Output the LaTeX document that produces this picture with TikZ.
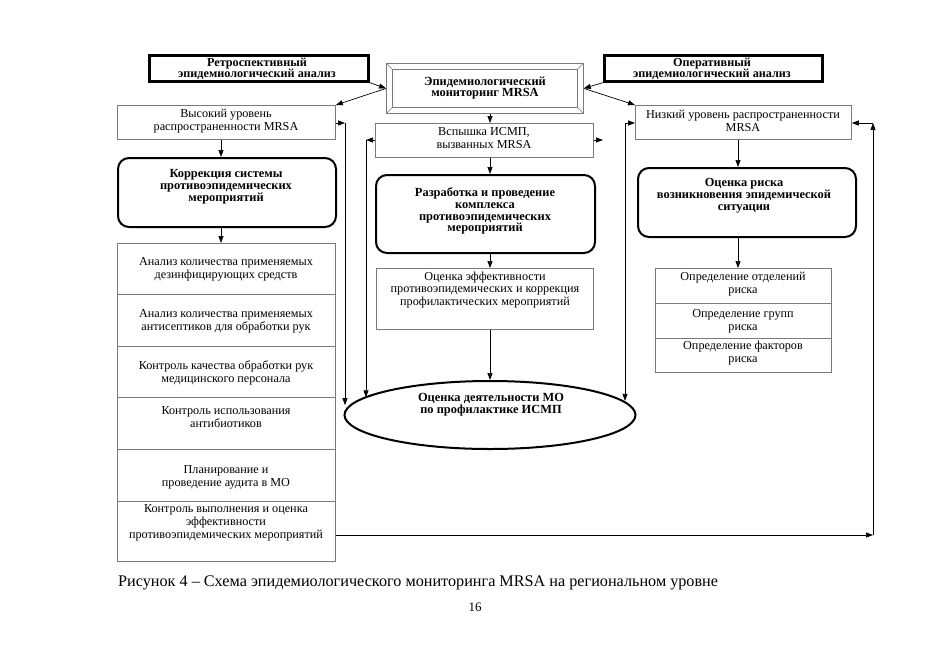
\documentclass[tikz,border=0pt]{standalone}
\usepackage{fontspec}
\setmainfont{Liberation Serif}
\usetikzlibrary{arrows.meta,shapes.geometric,calc}
\definecolor{framegray}{HTML}{7A7A7A}
\begin{document}
\begin{tikzpicture}[x=1pt,y=-1pt,
  thinbox/.style={draw=framegray,line width=0.8pt,inner sep=0pt,anchor=north west},
  thickbox/.style={draw,line width=2.6pt,inner sep=0pt,anchor=north west},
  roundbox/.style={draw,line width=2pt,rounded corners=11pt,inner sep=0pt,anchor=north west},
  txt/.style={align=center,font=\fontsize{12.2}{12.8}\selectfont,inner sep=0pt},
  btxt/.style={align=center,font=\fontsize{12.4}{11.8}\selectfont\bfseries,inner sep=0pt},
  htxt/.style={align=center,font=\fontsize{12.2}{11.2}\selectfont\bfseries,inner sep=0pt},
  arr/.style={-{Triangle[length=7pt,width=5pt]},line width=0.7pt},
  darr/.style={{Triangle[length=7pt,width=5pt]}-{Triangle[length=7pt,width=5pt]},line width=0.7pt}]
\useasboundingbox (0,0) rectangle (950,670);
\fill[white] (0,0) rectangle (950,670);

% top row
\node[thickbox,minimum width=219pt,minimum height=26pt] (retro) at (148,54) {};
\node[htxt] (retroT) at (257,68.5) {Ретроспективный\\эпидемиологический анализ};
\node[thickbox,minimum width=218pt,minimum height=26pt] (oper) at (603,54) {};
\node[htxt] (operT) at (712,68.5) {Оперативный\\эпидемиологический анализ};

\node[thinbox,minimum width=197pt,minimum height=50pt] (mon) at (386,63) {};
\draw[framegray,line width=0.8pt] ($(mon.north west)+(6,6)$) coordinate (m1) rectangle ($(mon.south east)+(-6,-6)$) coordinate (m3);
\draw[framegray,line width=0.6pt] (mon.north west) -- (m1)
  (mon.south east) -- (m3)
  (mon.north east) -- ($(mon.north east)+(-6,6)$)
  (mon.south west) -- ($(mon.south west)+(6,-6)$);
\node[btxt] (monT) at (485,88) {Эпидемиологический\\мониторинг MRSA};

% second row
\node[thinbox,minimum width=218pt,minimum height=34pt] (hi) at (117,105) {};
\node[txt] (hiT) at (226,121) {Высокий уровень\\распространенности MRSA};
\node[thinbox,minimum width=218pt,minimum height=34pt] (flash) at (375,123) {};
\node[txt] (flashT) at (484,138) {Вспышка ИСМП,\\вызванных MRSA};
\node[thinbox,minimum width=216pt,minimum height=34pt] (lo) at (635,105) {};
\node[txt] (loT) at (743,121) {Низкий уровень распространенности\\MRSA};

% rounded boxes
\node[roundbox,minimum width=218pt,minimum height=69pt] (corr) at (117,157) {};
\node[btxt] (corrT) at (226,187) {Коррекция системы\\противоэпидемических\\мероприятий};
\node[roundbox,minimum width=219pt,minimum height=78pt] (dev) at (375,174) {};
\node[btxt] (devT) at (485,211) {Разработка и проведение\\комплекса\\противоэпидемических\\мероприятий};
\node[roundbox,minimum width=218pt,minimum height=69pt] (risk) at (637,167) {};
\node[btxt] (riskT) at (744,196) {Оценка риска\\возникновения эпидемической\\ситуации};

% left list
\node[thinbox,minimum width=218pt,minimum height=51pt] (r1) at (117,243) {};
\node[txt] (r1T) at (226,269.5) {Анализ количества применяемых\\дезинфицирующих средств};
\node[thinbox,minimum width=218pt,minimum height=52pt] (r2) at (117,294) {};
\node[txt] (r2T) at (226,321) {Анализ количества применяемых\\антисептиков для обработки рук};
\node[thinbox,minimum width=218pt,minimum height=51pt] (r3) at (117,346) {};
\node[txt] (r3T) at (226,373) {Контроль качества обработки рук\\медицинского персонала};
\node[thinbox,minimum width=218pt,minimum height=52pt] (r4) at (117,397) {};
\node[txt] (r4T) at (226,417) {Контроль использования\\антибиотиков};
\node[thinbox,minimum width=218pt,minimum height=52pt] (r5) at (117,449) {};
\node[txt] (r5T) at (226,477) {Планирование и\\проведение аудита в МО};
\node[thinbox,minimum width=218pt,minimum height=60pt] (r6) at (117,501) {};
\node[txt] (r6T) at (226,522.5) {Контроль выполнения и оценка\\эффективности\\противоэпидемических мероприятий};

% middle
\node[thinbox,minimum width=217pt,minimum height=61pt] (eff) at (376,268) {};
\node[txt] (effT) at (485,290) {Оценка эффективности\\противоэпидемических и коррекция\\профилактических мероприятий};
\node[draw,ellipse,line width=2pt,minimum width=291pt,minimum height=68pt,inner sep=0pt] (ell) at (490,415) {};
\node[btxt] (ellT) at (491,405) {Оценка деятельности МО\\по профилактике ИСМП};

% right list
\node[thinbox,minimum width=176pt,minimum height=35pt] (q1) at (655,268) {};
\node[txt] (q1T) at (743,284) {Определение отделений\\риска};
\node[thinbox,minimum width=176pt,minimum height=35pt] (q2) at (655,303) {};
\node[txt] (q2T) at (743,321) {Определение групп\\риска};
\node[thinbox,minimum width=176pt,minimum height=34pt] (q3) at (655,338) {};
\node[txt] (q3T) at (743,353) {Определение факторов\\риска};

% helper coordinates
\coordinate (lx) at (221,0);
\coordinate (rx) at (738,0);
\coordinate (hL) at (345,123);
\coordinate (fL) at (366,140);
\coordinate (fR) at (603,140);
\coordinate (lR) at (625,123);
\coordinate (bR) at (873,535);
\coordinate (tR) at (873,123);

% connectors top
\draw[arr] (retro.south east) -- (mon.west);
\draw[arr] (mon.west) -- (hi.north east);
\draw[arr] (oper.south west) -- (mon.east);
\draw[arr] (mon.east) -- (lo.north west);

% vertical chains
\draw[arr] (hi.south -| lx) -- (corr.north -| lx);
\draw[arr] (corr.south -| lx) -- (r1.north -| lx);
\draw[arr] (mon.south -| ell) -- (flash.north -| ell);
\draw[arr] (flash.south -| ell) -- (dev.north -| ell);
\draw[arr] (dev.south -| ell) -- (eff.north -| ell);
\draw[arr] (eff.south -| ell) -- (ell.north);
\draw[arr] (lo.south -| rx) -- (risk.north -| rx);
\draw[arr] (risk.south -| rx) -- (q1.north -| rx);

% side connectors to ellipse
\draw[arr] (hi.east |- hL) -- (hL);
\draw[arr] (hL) -- (hL |- ell.176);
\draw[arr] (flash.west |- fL) -- (fL);
\draw[arr] (fL) -- (fL |- ell.172);
\draw[arr] (flash.east |- fR) -- (fR);
\draw[darr] (lo.west |- lR) -- (lR) -- (lR |- ell.6);

% feedback loop
\draw[arr] (r6.east |- bR) -- (bR);
\draw[arr] (bR) -- (tR);
\draw[arr] (tR) -- (lo.east |- tR);

% caption
\node[anchor=west,inner sep=0pt,font=\fontsize{16.2}{18}\selectfont] (cap) at (118,583) {Рисунок 4 – Схема эпидемиологического мониторинга MRSA на региональном уровне};
\node[inner sep=0pt,font=\fontsize{13}{15}\selectfont] (pg) at (475,607) {16};
\end{tikzpicture}
\end{document}
